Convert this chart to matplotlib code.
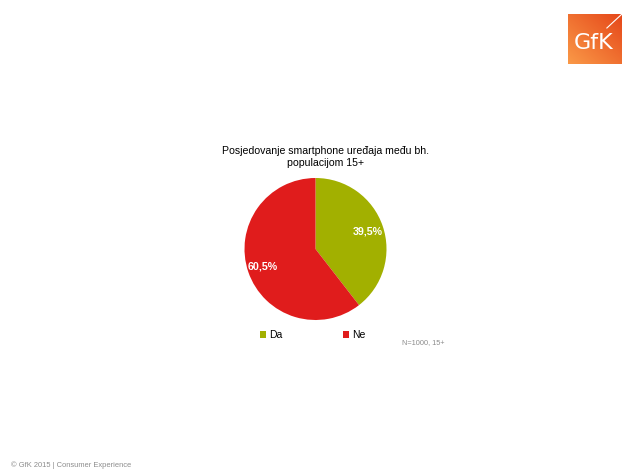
import matplotlib.pyplot as plt
import numpy as np

categories = ["Da", "Ne"]
shares = [39.5, 60.5]
colors = ["#a2b000", "#e01c1c"]
title = "Posjedovanje smartphone uređaja među bh.\npopulacijom 15+"
note = "N=1000, 15+"
footer = "© GfK 2015 | Consumer Experience"

plt.rcParams['font.family'] = ['Liberation Sans', 'DejaVu Sans']

W, H = 632, 475
fig = plt.figure(figsize=(W / 100, H / 100), dpi=100)


def px_axes(x0, y0, w, h):
    # pixel box (top-left origin) -> figure axes
    return fig.add_axes([x0 / W, 1 - (y0 + h) / H, w / W, h / H])


# pie
cx, cy, r = 315.5, 249, 71
ax = px_axes(cx - r, cy - r, 2 * r, 2 * r)
wedges, _, autotexts = ax.pie(
    shares, colors=colors, startangle=90, counterclock=False,
    autopct=lambda p: f"{p:.1f}".replace(".", ",") + "%",
    pctdistance=0.78, radius=1,
    textprops=dict(color="white", fontsize=7.7, fontweight="bold"))
ax.set_xlim(-1, 1)
ax.set_ylim(-1, 1)
ax.set_aspect("equal")
ax.axis("off")

fig.text(326 / W, 1 - 157 / H, title, ha="center", va="center",
         fontsize=7.6, linespacing=1.3)

fig.legend(wedges, categories, loc="center left",
           bbox_to_anchor=(256 / W, 1 - 335 / H), ncol=2, frameon=False,
           fontsize=7.5, handlelength=0.6, handleheight=0.6,
           handletextpad=0.3, columnspacing=5.8, borderaxespad=0)

fig.text(402 / W, 1 - 343 / H, note, ha="left", va="center",
         fontsize=5.3, color="#8c8c8c")
fig.text(11 / W, 1 - 465 / H, footer, ha="left", va="center",
         fontsize=5.4, color="#8c8c8c")

# GfK logo
lax = px_axes(568, 14, 54, 50)
gx, gy = np.meshgrid(np.linspace(0, 1, 60), np.linspace(0, 1, 60))
grad = (gx + (1 - gy)) / 2
top = np.array([0.98, 0.60, 0.28])
bot = np.array([0.90, 0.28, 0.10])
img = top[None, None, :] * (1 - grad[..., None]) + bot[None, None, :] * grad[..., None]
lax.imshow(img, extent=(0, 1, 0, 1), aspect="auto")
lax.plot([0.72, 1.0], [0.72, 1.0], color="white", lw=0.8)
lax.text(0.47, 0.42, "GfK", color="white", fontsize=16, ha="center",
         va="center", family="DejaVu Sans")
lax.set_xlim(0, 1)
lax.set_ylim(0, 1)
lax.axis("off")

fig.savefig("out.png", dpi=100)
